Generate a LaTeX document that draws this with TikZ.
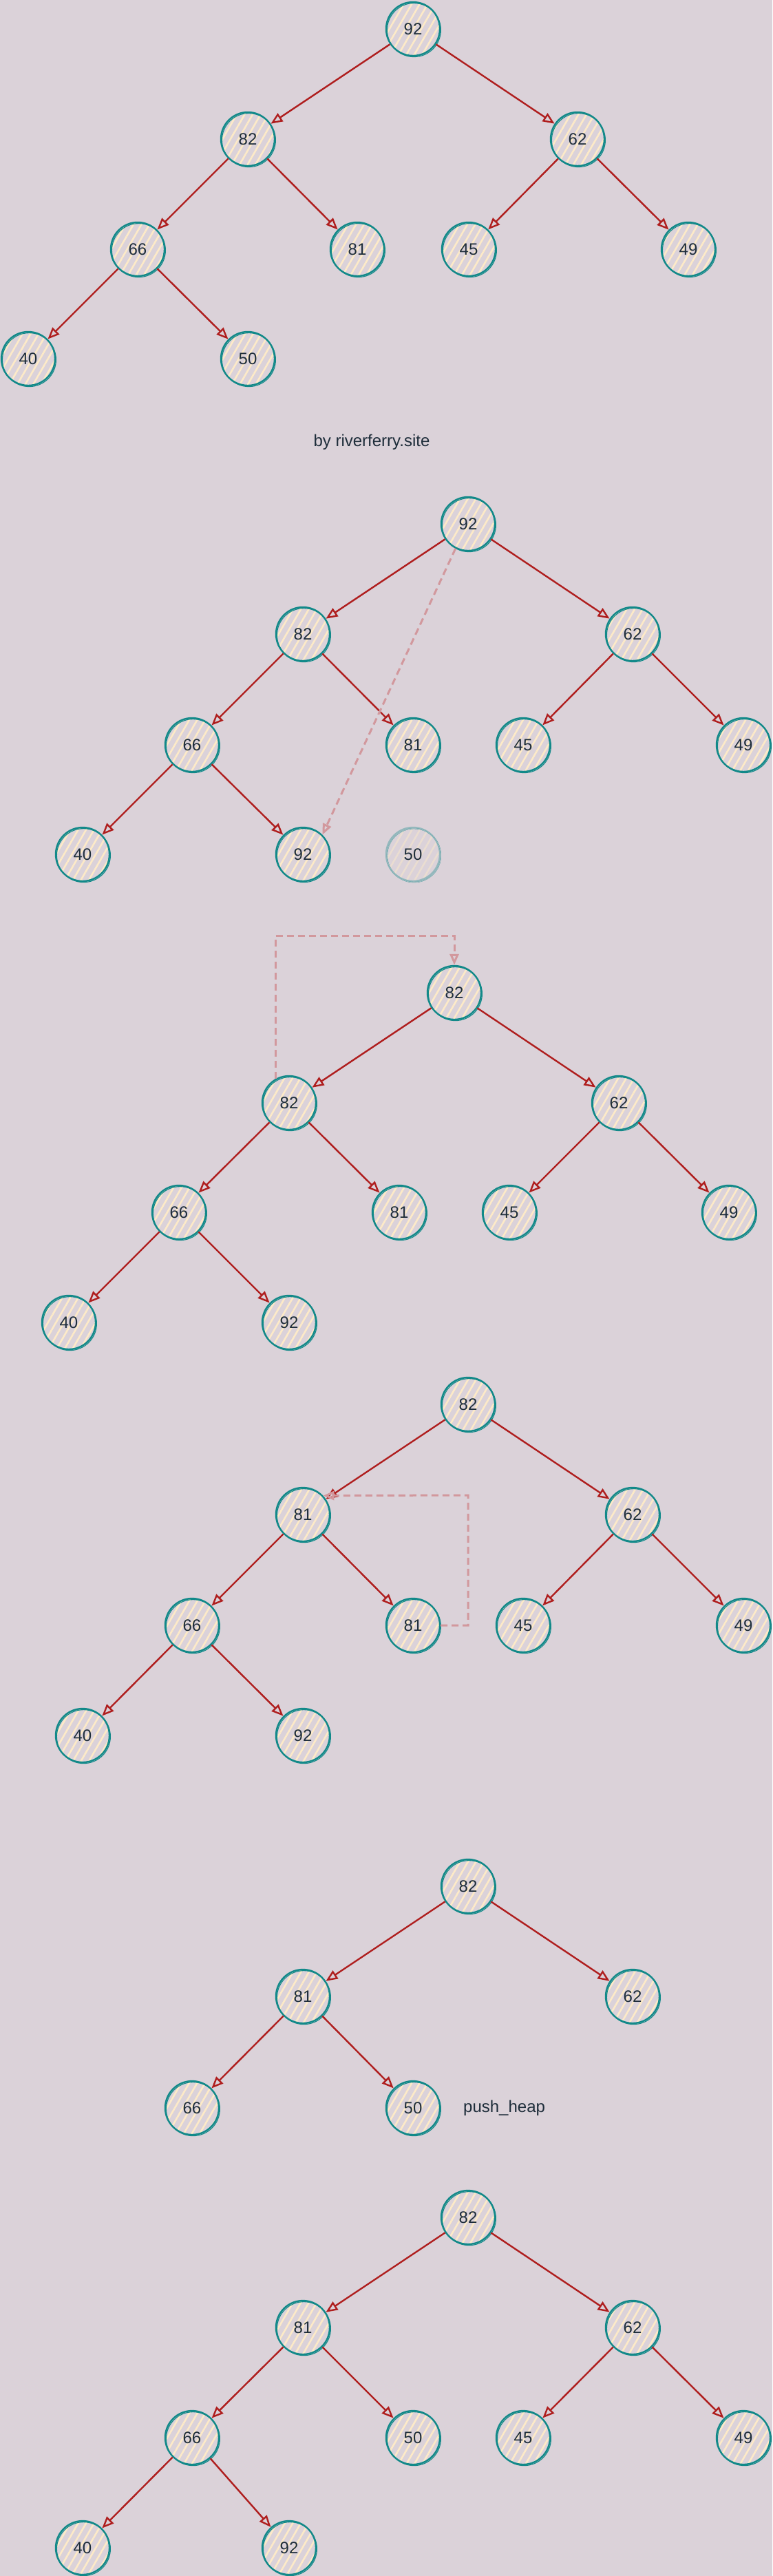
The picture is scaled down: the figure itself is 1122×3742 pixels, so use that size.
\documentclass[tikz,border=0pt]{standalone}
\usepackage{fontspec}
\setmainfont{Liberation Sans}
\usetikzlibrary{arrows.meta,patterns.meta}
\definecolor{bg}{RGB}{219,210,217}
\definecolor{tealc}{RGB}{18,137,137}
\definecolor{hatch}{RGB}{253,234,200}
\definecolor{redc}{RGB}{175,30,30}
\definecolor{dashc}{RGB}{210,152,157}
\definecolor{txt}{RGB}{30,45,58}
\begin{document}
\begin{tikzpicture}[x=1pt,y=-1pt,
  hn/.style={circle, minimum size=78pt, inner sep=0pt, draw=tealc, line width=2.4pt,
    pattern={Lines[angle=60,distance=10pt,line width=2.6pt]}, pattern color=hatch,
    text=txt, font=\fontsize{24pt}{28pt}\selectfont,
    postaction={draw=tealc, line width=1.1pt, transform canvas={xshift=1.4pt,yshift=-1.6pt}}},
  faded/.style={hn, draw=tealc!35!bg, pattern color=hatch!45!bg,
    postaction={draw=tealc!30!bg, line width=1.1pt, transform canvas={xshift=1.4pt,yshift=-1.6pt}}},
  edge/.style={draw=redc, line width=2.4pt, -{Triangle[open,length=17pt,width=14pt]}},
  dsh/.style={draw=dashc, line width=3pt, dash pattern=on 10pt off 6pt,
    -{Triangle[open,length=16pt,width=13pt]}},
  lbl/.style={text=txt, font=\fontsize{24pt}{28pt}\selectfont, inner sep=0pt}]
\useasboundingbox (0,0) rectangle (1122,3742);
\fill[bg] (0,0) rectangle (1122,3742);

% tree 1
\node[hn] (t1a) at (600,42) {92};
\node[hn] (t1b) at (360,202) {82};
\node[hn] (t1c) at (839,202) {62};
\node[hn] (t1d) at (200,362) {66};
\node[hn] (t1e) at (519,362) {81};
\node[hn] (t1f) at (681,362) {45};
\node[hn] (t1g) at (1000,362) {49};
\node[hn] (t1h) at (41,521) {40};
\node[hn] (t1i) at (360,521) {50};
\node[lbl] (credit) at (540,642) {by riverferry.site};

% tree 2
\node[hn] (t2a) at (680,761) {92};
\node[hn] (t2b) at (440,921) {82};
\node[hn] (t2c) at (919,921) {62};
\node[hn] (t2d) at (279,1082) {66};
\node[hn] (t2e) at (600,1082) {81};
\node[hn] (t2f) at (760,1082) {45};
\node[hn] (t2g) at (1080,1082) {49};
\node[hn] (t2h) at (120,1241) {40};
\node[hn] (t2i) at (440,1241) {92};
\node[faded] (t2j) at (600,1241) {50};

% tree 3
\node[hn] (t3a) at (660,1442) {82};
\node[hn] (t3b) at (420,1602) {82};
\node[hn] (t3c) at (899,1602) {62};
\node[hn] (t3d) at (260,1761) {66};
\node[hn] (t3e) at (580,1761) {81};
\node[hn] (t3f) at (740,1761) {45};
\node[hn] (t3g) at (1059,1761) {49};
\node[hn] (t3h) at (100,1921) {40};
\node[hn] (t3i) at (420,1921) {92};

% tree 4
\node[hn] (t4a) at (680,2040) {82};
\node[hn] (t4b) at (440,2200) {81};
\node[hn] (t4c) at (919,2200) {62};
\node[hn] (t4d) at (279,2361) {66};
\node[hn] (t4e) at (600,2361) {81};
\node[hn] (t4f) at (760,2361) {45};
\node[hn] (t4g) at (1080,2361) {49};
\node[hn] (t4h) at (120,2521) {40};
\node[hn] (t4i) at (440,2521) {92};

% tree 5
\node[hn] (t5a) at (680,2740) {82};
\node[hn] (t5b) at (440,2900) {81};
\node[hn] (t5c) at (919,2900) {62};
\node[hn] (t5d) at (279,3062) {66};
\node[hn] (t5e) at (600,3062) {50};
\node[lbl, anchor=west] (push) at (673,3062) {push\_heap};

% tree 6
\node[hn] (t6a) at (680,3221) {82};
\node[hn] (t6b) at (440,3381) {81};
\node[hn] (t6c) at (919,3381) {62};
\node[hn] (t6d) at (279,3541) {66};
\node[hn] (t6e) at (600,3541) {50};
\node[hn] (t6f) at (760,3541) {45};
\node[hn] (t6g) at (1080,3541) {49};
\node[hn] (t6h) at (120,3701) {40};
\node[hn] (t6i) at (420,3701) {92};

% edges
\foreach \t in {1,2,3,4,6}{
  \foreach \p/\c in {a/b,a/c,b/d,b/e,c/f,c/g,d/h,d/i}
    \draw[edge] (t\t\p) -- (t\t\c);
}
\foreach \p/\c in {a/b,a/c,b/d,b/e}
  \draw[edge] (t5\p) -- (t5\c);

% dashed moves
\draw[dsh] (t2a.-117) -- (t2i.45);
\coordinate (k3) at (660,1359);
\draw[dsh] (t3b.119) |- (k3) -- (t3a.north);
\coordinate (k4) at (680,2172);
\draw[dsh] (t4e.east) -| (k4) -- (t4b.43);
\end{tikzpicture}
\end{document}
